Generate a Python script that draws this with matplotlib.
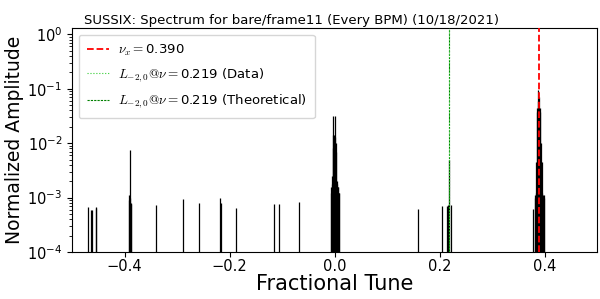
import numpy as np
import matplotlib
matplotlib.use("Agg")
import matplotlib.pyplot as plt

plt.rcParams['mathtext.fontset'] = 'cm'

# spectrum lines (tune, normalized amplitude)
tune_lines = [-0.4696, -0.4645, -0.4626, -0.4545, -0.4535,
              -0.3915, -0.3905, -0.3895, -0.3890, -0.3880, -0.3870,
              -0.3400, -0.2880, -0.2590, -0.2186, -0.2155, -0.1870,
              -0.1156, -0.1060, -0.0676,
              -0.0075, -0.0065, -0.0055, -0.0045, -0.0038, -0.0030, -0.0020, -0.0010,
              0.0000, 0.0010, 0.0020, 0.0030, 0.0040, 0.0050, 0.0060, 0.0070, 0.0080, 0.0089,
              0.1592, 0.2053, 0.2148, 0.2160, 0.2174, 0.2212,
              0.3773, 0.3815, 0.3825, 0.3835, 0.3845, 0.3855, 0.3865, 0.3875, 0.3885,
              0.3895, 0.3905, 0.3915, 0.3925, 0.3935, 0.3945, 0.3955, 0.3970, 0.3985, 0.3994]
amp_lines = [6.8e-4, 6.0e-4, 6.0e-4, 6.8e-4, 6.4e-4,
             1.1e-3, 9.0e-4, 7.4e-3, 1.0e-3, 8.0e-4, 7.5e-4,
             7.2e-4, 9.6e-4, 7.8e-4, 1.0e-3, 7.8e-4, 6.5e-4,
             7.5e-4, 7.5e-4, 8.4e-4,
             1.2e-3, 1.6e-3, 1.8e-3, 2.5e-3, 3.2e-2, 8.0e-3, 1.4e-2, 1.4e-2,
             3.2e-2, 1.3e-2, 1.0e-2, 7.0e-3, 2.0e-3, 1.8e-3, 1.6e-3, 1.6e-3, 1.2e-3, 1.2e-3,
             6.1e-4, 7.1e-4, 7.0e-4, 7.2e-4, 4.9e-3, 7.3e-4,
             6.1e-4, 1.0e-3, 1.1e-3, 1.2e-3, 4.6e-3, 3.7e-2, 4.5e-2, 6.0e-2, 9.5e-2,
             7.0e-2, 4.5e-2, 3.7e-2, 1.0e-2, 4.6e-3, 4.6e-3, 1.2e-3, 1.1e-3, 1.1e-3, 1.0e-3]

nu_x = 0.390
nu_data = 0.219
nu_theo = 0.219

fig = plt.figure(figsize=(6, 2.99), dpi=100)
ax = fig.add_axes([0.12, 0.157, 0.875, 0.749])

ax.vlines(tune_lines, 1e-4, amp_lines, color='k', linewidth=0.9)
ax.axvline(nu_x, color='r', linestyle='--', linewidth=1.3, zorder=3,
           label=r'$\nu_x=$' + '%.3f' % nu_x)
ax.axvline(nu_data, color='limegreen', linestyle=':', linewidth=0.8, zorder=4,
           label=r'$L_{-2,0}@\nu=$' + '%.3f (Data)' % nu_data)
ax.axvline(nu_theo, color='green', linestyle=(0, (2, 1)), linewidth=0.8, zorder=2,
           label=r'$L_{-2,0}@\nu=$' + '%.3f (Theoretical)' % nu_theo)

ax.set_yscale('log')
ax.set_ylim(1e-4, 1.3)
ax.set_xlim(-0.5, 0.5)
ax.set_xticks([-0.4, -0.2, 0.0, 0.2, 0.4])
ax.tick_params(axis='both', labelsize=10.5)
ax.tick_params(axis='x', pad=1.5)
ax.set_xlabel('Fractional Tune', fontsize=15)
ax.xaxis.set_label_coords(0.5, -0.1)
ax.set_ylabel('Normalized Amplitude', fontsize=13.5, labelpad=2)
ax.set_title('SUSSIX: Spectrum for bare/frame11 (Every BPM) (10/18/2021)', fontsize=9.5,
             x=0.419, pad=3)
ax.legend(loc='upper left', fontsize=9.5, handlelength=1.7, labelspacing=0.65,
          borderpad=0.6, handletextpad=0.7)

fig.savefig('out.png', dpi=100)
